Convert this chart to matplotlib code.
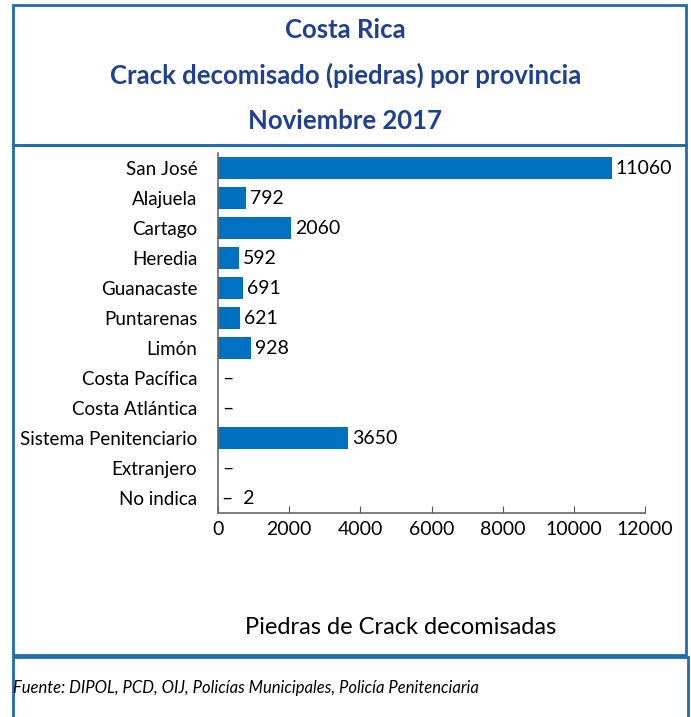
import numpy as np
import matplotlib.pyplot as plt
from matplotlib.patches import Rectangle

plt.rcParams["font.family"] = ["Lato", "DejaVu Sans"]

categories = ["San José", "Alajuela", "Cartago", "Heredia", "Guanacaste", "Puntarenas",
              "Limón", "Costa Pacífica", "Costa Atlántica", "Sistema Penitenciario",
              "Extranjero", "No indica"]
values = [11060, 792, 2060, 592, 691, 621, 928, 0, 0, 3650, 0, 2]
labels = ["11060", "792", "2060", "592", "691", "621", "928", "–", "–", "3650", "–", "–  2"]
xticks = [0, 2000, 4000, 6000, 8000, 10000, 12000]

W, H = 691, 717
fig = plt.figure(figsize=(W / 100, H / 100), dpi=100)

def px(x0, y0, x1, y1):
    # pixel box -> figure fraction rectangle
    return (x0 / W, 1 - y1 / H, (x1 - x0) / W, (y1 - y0) / H)

ax = fig.add_axes(px(218, 153, 645, 513))
y = np.arange(len(categories))
ax.barh(y, values, height=0.73, color="#0070C0")
for yi, v, lab in zip(y, values, labels):
    ax.annotate(lab, (v, yi), xytext=(3, 0), textcoords="offset points",
                va="center", ha="left", fontsize=14)

ax.set_ylim(len(categories) - 0.5, -0.5)
ax.set_xlim(0, 12000)
ax.set_yticks(y)
ax.set_yticklabels(categories, fontsize=13.5)
ax.set_xticks(xticks)
ax.set_xticklabels([str(t) for t in xticks], fontsize=14)
ax.tick_params(axis="y", length=0, pad=15)
ax.tick_params(axis="x", direction="in", length=5, color="#555555", pad=6)
for s in ["top", "right"]:
    ax.spines[s].set_visible(False)
for s in ["left", "bottom"]:
    ax.spines[s].set_color("#666666")
    ax.spines[s].set_linewidth(1.2)

title_col = "#1F3F92"
for txt, ypix in [("Costa Rica", 30), ("Crack decomisado (piedras) por provincia", 75),
                  ("Noviembre 2017", 121)]:
    fig.text(0.5, 1 - ypix / H, txt, ha="center", va="center", fontsize=18.5,
             fontweight="bold", color=title_col)

fig.text(401 / W, 1 - 627 / H, "Piedras de Crack decomisadas", ha="center", va="center",
         fontsize=17)
fig.text(13 / W, 1 - 688 / H, "Fuente: DIPOL, PCD, OIJ, Policías Municipales, Policía Penitenciaria",
         ha="left", va="center", fontsize=12, style="italic")

border = "#1F6DB0"
for box in [px(13, 5, 686, 145), px(13, 145, 686, 655), px(13, 657, 688, 720)]:
    fig.patches.append(Rectangle(box[:2], box[2], box[3], transform=fig.transFigure,
                                 fill=False, edgecolor=border, linewidth=2))

fig.savefig("out.png", dpi=100)
